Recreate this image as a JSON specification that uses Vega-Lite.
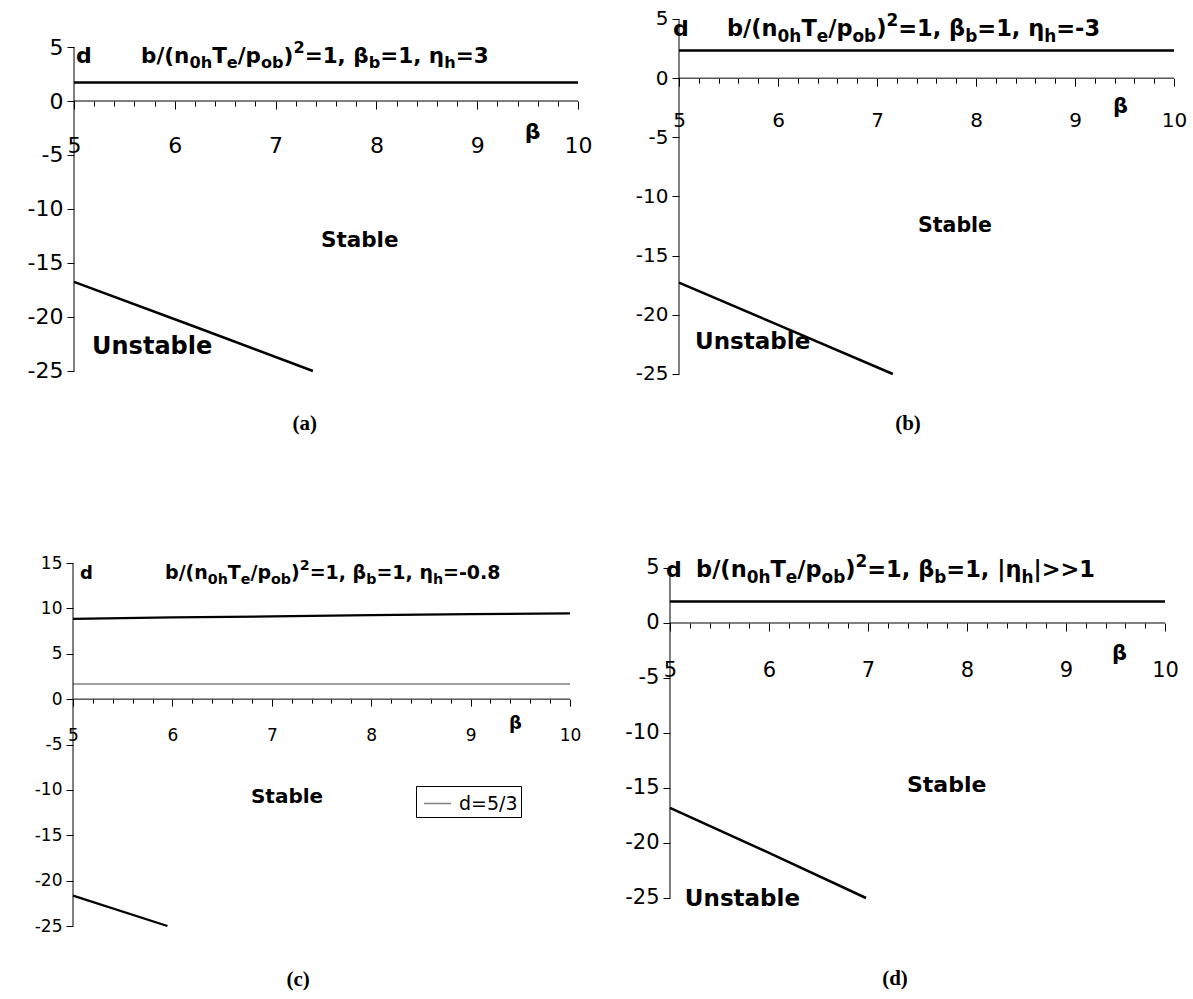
{
  "$schema": "https://vega.github.io/schema/vega-lite/v6.json",
  "padding": 0,
  "background": "white",
  "bounds": "flush",
  "spacing": 0,
  "columns": 2,
  "config": {
    "view": {"stroke": null},
    "axis": {"labelFont": "DejaVu Sans", "labelColor": "black", "tickColor": "black", "tickWidth": 1, "grid": false, "domain": false},
    "text": {"font": "DejaVu Sans", "fontWeight": "bold", "align": "left", "baseline": "alphabetic", "color": "black"},
    "line": {"color": "black"},
    "rule": {"color": "black"}
  },
  "datasets": {
    "a": [
      {"beta": 5, "d": 1.71, "s": "upper"}, {"beta": 10, "d": 1.71, "s": "upper"},
      {"beta": 5, "d": -16.75, "s": "lower"}, {"beta": 6.2, "d": -20.9, "s": "lower"}, {"beta": 7.37, "d": -25, "s": "lower"}
    ],
    "b": [
      {"beta": 5, "d": 2.33, "s": "upper"}, {"beta": 10, "d": 2.33, "s": "upper"},
      {"beta": 5, "d": -17.27, "s": "lower"}, {"beta": 6, "d": -20.85, "s": "lower"}, {"beta": 7.16, "d": -25, "s": "lower"}
    ],
    "c": [
      {"beta": 5, "d": 8.85, "s": "upper"}, {"beta": 6, "d": 9.0, "s": "upper"}, {"beta": 7, "d": 9.12, "s": "upper"},
      {"beta": 8, "d": 9.25, "s": "upper"}, {"beta": 9, "d": 9.36, "s": "upper"}, {"beta": 10, "d": 9.45, "s": "upper"},
      {"beta": 5, "d": 1.667, "s": "d=5/3"}, {"beta": 10, "d": 1.667, "s": "d=5/3"},
      {"beta": 5, "d": -21.65, "s": "lower"}, {"beta": 5.95, "d": -25, "s": "lower"}
    ],
    "d": [
      {"beta": 5, "d": 1.95, "s": "upper"}, {"beta": 10, "d": 1.95, "s": "upper"},
      {"beta": 5, "d": -16.8, "s": "lower"}, {"beta": 6, "d": -20.9, "s": "lower"}, {"beta": 6.98, "d": -25, "s": "lower"}
    ]
  },
  "concat": [
    {
      "width": 600, "height": 470,
      "resolve": {"axis": {"x": "independent", "y": "independent"}},
      "layer": [
        {
          "data": {"name": "a"},
          "mark": {"type": "line", "strokeWidth": 2.5, "color": "black"},
          "encoding": {
            "x": {"field": "beta", "type": "quantitative", "scale": {"domain": [4.26587, 10.21825], "nice": false, "zero": false},
              "axis": {"orient": "bottom", "offset": -369, "values": [5, 6, 7, 8, 9, 10], "tickSize": 8, "labelPadding": 26, "labelFontSize": 22, "labelFlush": false, "labelOverlap": false, "title": null}},
            "y": {"field": "d", "type": "quantitative", "scale": {"domain": [-34.167, 9.352], "nice": false, "zero": false},
              "axis": {"orient": "left", "offset": -74, "values": [-25, -20, -15, -10, -5, 0, 5], "labelExpr": "'' + datum.value", "tickSize": 7, "labelPadding": 4, "labelFontSize": 22, "labelOverlap": false, "title": null}},
            "detail": {"field": "s", "type": "nominal"}
          }
        },
        {
          "data": {"values": [{}]},
          "mark": {"type": "rule", "strokeWidth": 1},
          "encoding": {"x": {"datum": 5, "axis": {"orient": "bottom", "offset": -369, "values": [5.2, 5.4, 5.6, 5.8, 6.2, 6.4, 6.6, 6.8, 7.2, 7.4, 7.6, 7.8, 8.2, 8.4, 8.6, 8.8, 9.2, 9.4, 9.6, 9.8], "tickSize": 5, "labels": false, "title": null}},
            "x2": {"datum": 10}, "y": {"datum": 0, "axis": null}}
        },
        {
          "data": {"values": [{}]},
          "layer": [
            {"mark": {"type": "rule", "strokeWidth": 1},
             "encoding": {"x": {"datum": 5, "axis": null}, "y": {"datum": -25, "axis": null}, "y2": {"datum": 5}}},
            {"encoding": {"x": {"datum": 5.665, "axis": null}, "y": {"datum": 3.52, "axis": null}},
             "layer": [
               {"mark": {"type": "text", "text": "b/(n", "fontSize": 21.5}},
               {"mark": {"type": "text", "text": "0h", "fontSize": 16.1, "dx": 48.4, "dy": 5.4}},
               {"mark": {"type": "text", "text": "T", "fontSize": 21.5, "dx": 71.1}},
               {"mark": {"type": "text", "text": "e", "fontSize": 16.1, "dx": 85.7, "dy": 5.4}},
               {"mark": {"type": "text", "text": "/p", "fontSize": 21.5, "dx": 96.7}},
               {"mark": {"type": "text", "text": "ob", "fontSize": 16.1, "dx": 119.9, "dy": 5.4}},
               {"mark": {"type": "text", "text": ")", "fontSize": 21.5, "dx": 142.5}},
               {"mark": {"type": "text", "text": "2", "fontSize": 16.1, "dx": 152.4, "dy": -9.7}},
               {"mark": {"type": "text", "text": "=1, β", "fontSize": 21.5, "dx": 163.6}},
               {"mark": {"type": "text", "text": "b", "fontSize": 16.1, "dx": 227.6, "dy": 5.4}},
               {"mark": {"type": "text", "text": "=1, η", "fontSize": 21.5, "dx": 239.2}},
               {"mark": {"type": "text", "text": "h", "fontSize": 16.1, "dx": 303.1, "dy": 5.4}},
               {"mark": {"type": "text", "text": "=3", "fontSize": 21.5, "dx": 314.6}}
             ]},
            {"mark": {"type": "text", "text": "d", "fontSize": 22}, "encoding": {"x": {"datum": 5.02, "axis": null}, "y": {"datum": 3.52, "axis": null}}},
            {"mark": {"type": "text", "text": "β", "fontSize": 22, "align": "center"}, "encoding": {"x": {"datum": 9.55, "axis": null}, "y": {"datum": -3.52, "axis": null}}},
            {"mark": {"type": "text", "text": "Stable", "fontSize": 21.5}, "encoding": {"x": {"datum": 7.45, "axis": null}, "y": {"datum": -13.49, "axis": null}}},
            {"mark": {"type": "text", "text": "Unstable", "fontSize": 24}, "encoding": {"x": {"datum": 5.179, "axis": null}, "y": {"datum": -23.43, "axis": null}}},
            {"mark": {"type": "text", "text": "(a)", "font": "Liberation Serif", "fontSize": 21, "align": "center", "baseline": "middle"}, "encoding": {"x": {"datum": 7.29, "axis": null}, "y": {"datum": -29.9, "axis": null}}}
          ]
        }
      ]
    },
    {
      "width": 593, "height": 470,
      "resolve": {"axis": {"x": "independent", "y": "independent"}},
      "layer": [
        {
          "data": {"name": "b"},
          "mark": {"type": "line", "strokeWidth": 2.5, "color": "black"},
          "encoding": {
            "x": {"field": "beta", "type": "quantitative", "scale": {"domain": [4.20202, 10.19192], "nice": false, "zero": false},
              "axis": {"orient": "bottom", "offset": -391.8, "values": [5, 6, 7, 8, 9, 10], "tickSize": 8, "labelPadding": 24, "labelFontSize": 20, "labelFlush": false, "labelOverlap": false, "title": null}},
            "y": {"field": "d", "type": "quantitative", "scale": {"domain": [-33.1127, 6.6056], "nice": false, "zero": false},
              "axis": {"orient": "left", "offset": -79, "values": [-25, -20, -15, -10, -5, 0, 5], "labelExpr": "'' + datum.value", "tickSize": 7, "labelPadding": 4, "labelFontSize": 20, "labelOverlap": false, "title": null}},
            "detail": {"field": "s", "type": "nominal"}
          }
        },
        {
          "data": {"values": [{}]},
          "mark": {"type": "rule", "strokeWidth": 1},
          "encoding": {"x": {"datum": 5, "axis": {"orient": "bottom", "offset": -391.8, "values": [5.2, 5.4, 5.6, 5.8, 6.2, 6.4, 6.6, 6.8, 7.2, 7.4, 7.6, 7.8, 8.2, 8.4, 8.6, 8.8, 9.2, 9.4, 9.6, 9.8], "tickSize": 5, "labels": false, "title": null}},
            "x2": {"datum": 10}, "y": {"datum": 0, "axis": null}}
        },
        {
          "data": {"values": [{}]},
          "layer": [
            {"mark": {"type": "rule", "strokeWidth": 1},
             "encoding": {"x": {"datum": 5, "axis": null}, "y": {"datum": -25, "axis": null}, "y2": {"datum": 5}}},
            {"encoding": {"x": {"datum": 5.485, "axis": null}, "y": {"datum": 3.563, "axis": null}},
             "layer": [
               {"mark": {"type": "text", "text": "b/(n", "fontSize": 22.5}},
               {"mark": {"type": "text", "text": "0h", "fontSize": 16.9, "dx": 50.6, "dy": 5.6}},
               {"mark": {"type": "text", "text": "T", "fontSize": 22.5, "dx": 74.4}},
               {"mark": {"type": "text", "text": "e", "fontSize": 16.9, "dx": 89.7, "dy": 5.6}},
               {"mark": {"type": "text", "text": "/p", "fontSize": 22.5, "dx": 101.2}},
               {"mark": {"type": "text", "text": "ob", "fontSize": 16.9, "dx": 125.5, "dy": 5.6}},
               {"mark": {"type": "text", "text": ")", "fontSize": 22.5, "dx": 149.2}},
               {"mark": {"type": "text", "text": "2", "fontSize": 16.9, "dx": 159.5, "dy": -10.1}},
               {"mark": {"type": "text", "text": "=1, β", "fontSize": 22.5, "dx": 171.2}},
               {"mark": {"type": "text", "text": "b", "fontSize": 16.9, "dx": 238.2, "dy": 5.6}},
               {"mark": {"type": "text", "text": "=1, η", "fontSize": 22.5, "dx": 250.3}},
               {"mark": {"type": "text", "text": "h", "fontSize": 16.9, "dx": 317.2, "dy": 5.6}},
               {"mark": {"type": "text", "text": "=-3", "fontSize": 22.5, "dx": 329.2}}
             ]},
            {"mark": {"type": "text", "text": "d", "fontSize": 22}, "encoding": {"x": {"datum": 4.94, "axis": null}, "y": {"datum": 3.563, "axis": null}}},
            {"mark": {"type": "text", "text": "β", "fontSize": 21, "align": "center"}, "encoding": {"x": {"datum": 9.46, "axis": null}, "y": {"datum": -2.92, "axis": null}}},
            {"mark": {"type": "text", "text": "Stable", "fontSize": 20.5}, "encoding": {"x": {"datum": 7.414, "axis": null}, "y": {"datum": -13.0, "axis": null}}},
            {"mark": {"type": "text", "text": "Unstable", "fontSize": 23}, "encoding": {"x": {"datum": 5.162, "axis": null}, "y": {"datum": -22.89, "axis": null}}},
            {"mark": {"type": "text", "text": "(b)", "font": "Liberation Serif", "fontSize": 21, "align": "center", "baseline": "middle"}, "encoding": {"x": {"datum": 7.313, "axis": null}, "y": {"datum": -29.2, "axis": null}}}
          ]
        }
      ]
    },
    {
      "width": 600, "height": 529,
      "resolve": {"axis": {"x": "independent", "y": "independent"}},
      "layer": [
        {
          "data": {"name": "c"},
          "transform": [{"filter": "datum.s !== 'd=5/3'"}],
          "mark": {"type": "line", "strokeWidth": 2.3, "color": "black"},
          "encoding": {
            "x": {"field": "beta", "type": "quantitative", "scale": {"domain": [4.26559, 10.30181], "nice": false, "zero": false},
              "axis": {"orient": "bottom", "offset": -299.9, "values": [5, 6, 7, 8, 9, 10], "tickSize": 7, "labelPadding": 21, "labelFontSize": 17, "labelFlush": false, "labelOverlap": false, "title": null}},
            "y": {"field": "d", "type": "quantitative", "scale": {"domain": [-33.044, 25.248], "nice": false, "zero": false},
              "axis": {"orient": "left", "offset": -73, "values": [-25, -20, -15, -10, -5, 0, 5, 10, 15], "labelExpr": "'' + datum.value", "tickSize": 7, "labelPadding": 4, "labelFontSize": 17, "labelOverlap": false, "title": null}},
            "detail": {"field": "s", "type": "nominal"}
          }
        },
        {
          "data": {"values": [{}]},
          "mark": {"type": "rule", "strokeWidth": 1},
          "encoding": {"x": {"datum": 5, "axis": {"orient": "bottom", "offset": -299.9, "values": [5.2, 5.4, 5.6, 5.8, 6.2, 6.4, 6.6, 6.8, 7.2, 7.4, 7.6, 7.8, 8.2, 8.4, 8.6, 8.8, 9.2, 9.4, 9.6, 9.8], "tickSize": 4, "labels": false, "title": null}},
            "x2": {"datum": 10}, "y": {"datum": 0, "axis": null}}
        },
        {
          "data": {"name": "c"},
          "transform": [{"filter": "datum.s === 'd=5/3'"}],
          "mark": {"type": "line", "strokeWidth": 1.5},
          "encoding": {
            "x": {"field": "beta", "type": "quantitative", "axis": null},
            "y": {"field": "d", "type": "quantitative", "axis": null},
            "color": {"field": "s", "type": "nominal", "scale": {"domain": ["d=5/3"], "range": ["#808080"]},
              "legend": {"title": null, "orient": "none", "legendX": 416, "legendY": 786, "strokeColor": "black", "fillColor": "white", "padding": 3, "symbolOffset": 4, "symbolType": "stroke", "symbolSize": 729, "symbolStrokeWidth": 1.5, "labelFontSize": 19, "labelFont": "DejaVu Sans", "labelColor": "black", "labelOffset": 7}}
          }
        },
        {
          "data": {"values": [{}]},
          "layer": [
            {"mark": {"type": "rule", "strokeWidth": 1},
             "encoding": {"x": {"datum": 5, "axis": null}, "y": {"datum": -25, "axis": null}, "y2": {"datum": 15}}},
            {"encoding": {"x": {"datum": 5.926, "axis": null}, "y": {"datum": 13.237, "axis": null}},
             "layer": [
               {"mark": {"type": "text", "text": "b/(n", "fontSize": 19}},
               {"mark": {"type": "text", "text": "0h", "fontSize": 14.25, "dx": 42.75, "dy": 4.75}},
               {"mark": {"type": "text", "text": "T", "fontSize": 19, "dx": 62.8}},
               {"mark": {"type": "text", "text": "e", "fontSize": 14.25, "dx": 75.8, "dy": 4.75}},
               {"mark": {"type": "text", "text": "/p", "fontSize": 19, "dx": 85.4}},
               {"mark": {"type": "text", "text": "ob", "fontSize": 14.25, "dx": 106.0, "dy": 4.75}},
               {"mark": {"type": "text", "text": ")", "fontSize": 19, "dx": 126.0}},
               {"mark": {"type": "text", "text": "2", "fontSize": 14.25, "dx": 134.6, "dy": -8.5}},
               {"mark": {"type": "text", "text": "=1, β", "fontSize": 19, "dx": 144.6}},
               {"mark": {"type": "text", "text": "b", "fontSize": 14.25, "dx": 201.1, "dy": 4.75}},
               {"mark": {"type": "text", "text": "=1, η", "fontSize": 19, "dx": 211.4}},
               {"mark": {"type": "text", "text": "h", "fontSize": 14.25, "dx": 267.9, "dy": 4.75}},
               {"mark": {"type": "text", "text": "=-0.8", "fontSize": 19, "dx": 278.0}}
             ]},
            {"mark": {"type": "text", "text": "d", "fontSize": 18}, "encoding": {"x": {"datum": 5.07, "axis": null}, "y": {"datum": 13.237, "axis": null}}},
            {"mark": {"type": "text", "text": "β", "fontSize": 18, "align": "center"}, "encoding": {"x": {"datum": 9.45, "axis": null}, "y": {"datum": -3.29, "axis": null}}},
            {"mark": {"type": "text", "text": "Stable", "fontSize": 20}, "encoding": {"x": {"datum": 6.79, "axis": null}, "y": {"datum": -11.45, "axis": null}}},
            {"mark": {"type": "text", "text": "(c)", "font": "Liberation Serif", "fontSize": 21, "align": "center", "baseline": "middle"}, "encoding": {"x": {"datum": 7.264, "axis": null}, "y": {"datum": -30.9, "axis": null}}}
          ]
        }
      ]
    },
    {
      "width": 593, "height": 529,
      "resolve": {"axis": {"x": "independent", "y": "independent"}},
      "layer": [
        {
          "data": {"name": "d"},
          "mark": {"type": "line", "strokeWidth": 2.5, "color": "black"},
          "encoding": {
            "x": {"field": "beta", "type": "quantitative", "scale": {"domain": [4.29293, 10.28283], "nice": false, "zero": false},
              "axis": {"orient": "bottom", "offset": -376, "values": [5, 6, 7, 8, 9, 10], "tickSize": 8, "labelPadding": 28, "labelFontSize": 21, "labelFlush": false, "labelOverlap": false, "title": null}},
            "y": {"field": "d", "type": "quantitative", "scale": {"domain": [-34.182, 13.909], "nice": false, "zero": false},
              "axis": {"orient": "left", "offset": -70, "values": [-25, -20, -15, -10, -5, 0, 5], "labelExpr": "'' + datum.value", "tickSize": 7, "labelPadding": 4, "labelFontSize": 21, "labelOverlap": false, "title": null}},
            "detail": {"field": "s", "type": "nominal"}
          }
        },
        {
          "data": {"values": [{}]},
          "mark": {"type": "rule", "strokeWidth": 1},
          "encoding": {"x": {"datum": 5, "axis": {"orient": "bottom", "offset": -376, "values": [5.2, 5.4, 5.6, 5.8, 6.2, 6.4, 6.6, 6.8, 7.2, 7.4, 7.6, 7.8, 8.2, 8.4, 8.6, 8.8, 9.2, 9.4, 9.6, 9.8], "tickSize": 5, "labels": false, "title": null}},
            "x2": {"datum": 10}, "y": {"datum": 0, "axis": null}}
        },
        {
          "data": {"values": [{}]},
          "layer": [
            {"mark": {"type": "rule", "strokeWidth": 1},
             "encoding": {"x": {"datum": 5, "axis": null}, "y": {"datum": -25, "axis": null}, "y2": {"datum": 5}}},
            {"encoding": {"x": {"datum": 5.263, "axis": null}, "y": {"datum": 4.18, "axis": null}},
             "layer": [
               {"mark": {"type": "text", "text": "b/(n", "fontSize": 22.5}},
               {"mark": {"type": "text", "text": "0h", "fontSize": 16.9, "dx": 50.6, "dy": 5.6}},
               {"mark": {"type": "text", "text": "T", "fontSize": 22.5, "dx": 74.4}},
               {"mark": {"type": "text", "text": "e", "fontSize": 16.9, "dx": 89.7, "dy": 5.6}},
               {"mark": {"type": "text", "text": "/p", "fontSize": 22.5, "dx": 101.2}},
               {"mark": {"type": "text", "text": "ob", "fontSize": 16.9, "dx": 125.5, "dy": 5.6}},
               {"mark": {"type": "text", "text": ")", "fontSize": 22.5, "dx": 149.2}},
               {"mark": {"type": "text", "text": "2", "fontSize": 16.9, "dx": 159.5, "dy": -10.1}},
               {"mark": {"type": "text", "text": "=1, β", "fontSize": 22.5, "dx": 171.2}},
               {"mark": {"type": "text", "text": "b", "fontSize": 16.9, "dx": 238.2, "dy": 5.6}},
               {"mark": {"type": "text", "text": "=1, |η", "fontSize": 22.5, "dx": 250.3}},
               {"mark": {"type": "text", "text": "h", "fontSize": 16.9, "dx": 325.4, "dy": 5.6}},
               {"mark": {"type": "text", "text": "|>>1", "fontSize": 22.5, "dx": 337.4}}
             ]},
            {"mark": {"type": "text", "text": "d", "fontSize": 22}, "encoding": {"x": {"datum": 4.96, "axis": null}, "y": {"datum": 4.18, "axis": null}}},
            {"mark": {"type": "text", "text": "β", "fontSize": 21, "align": "center"}, "encoding": {"x": {"datum": 9.54, "axis": null}, "y": {"datum": -3.36, "axis": null}}},
            {"mark": {"type": "text", "text": "Stable", "fontSize": 22}, "encoding": {"x": {"datum": 7.394, "axis": null}, "y": {"datum": -15.4, "axis": null}}},
            {"mark": {"type": "text", "text": "Unstable", "fontSize": 23}, "encoding": {"x": {"datum": 5.15, "axis": null}, "y": {"datum": -25.7, "axis": null}}},
            {"mark": {"type": "text", "text": "(d)", "font": "Liberation Serif", "fontSize": 21, "align": "center", "baseline": "middle"}, "encoding": {"x": {"datum": 7.273, "axis": null}, "y": {"datum": -32.4, "axis": null}}}
          ]
        }
      ]
    }
  ]
}
